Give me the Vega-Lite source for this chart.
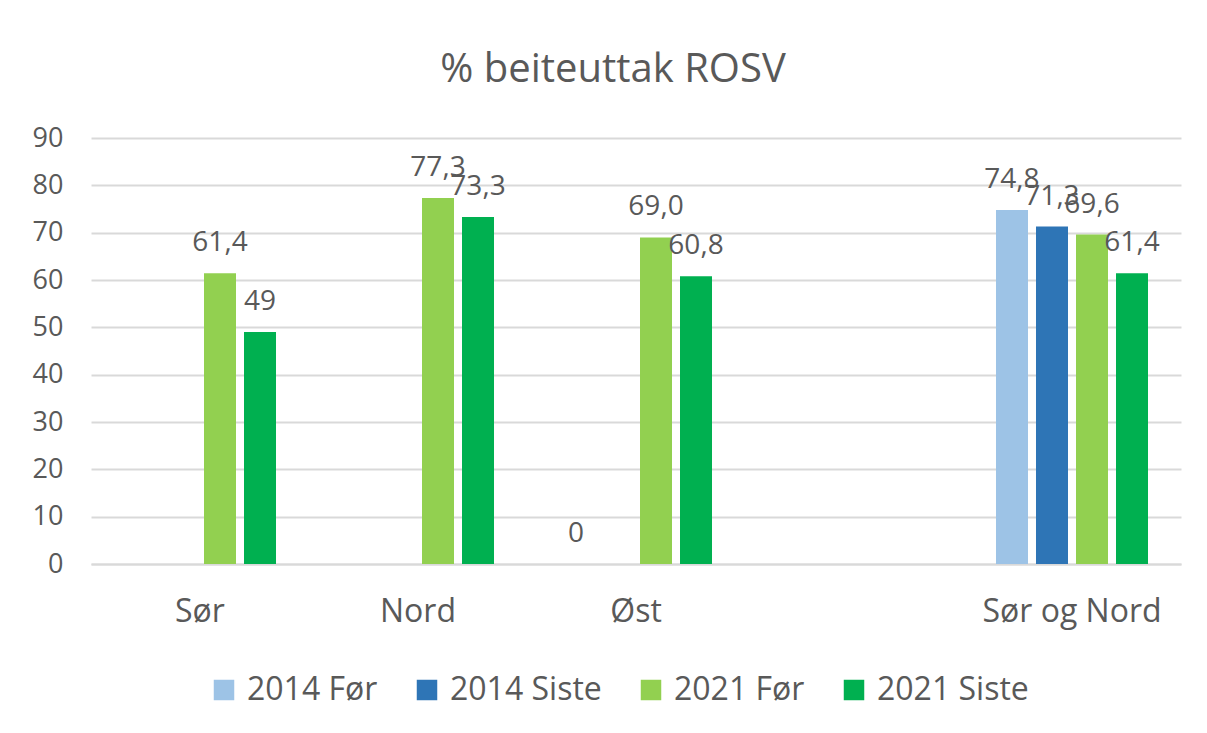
{
  "$schema": "https://vega.github.io/schema/vega-lite/v6.json",
  "width": 1090,
  "height": 426,
  "autosize": {"type": "none"},
  "padding": {"left": 91, "top": 138, "right": 26, "bottom": 169},
  "background": "white",
  "title": {
    "text": "% beiteuttak ROSV",
    "font": "Open Sans",
    "fontSize": 40,
    "fontWeight": "normal",
    "color": "#595959",
    "anchor": "middle",
    "frame": "group",
    "offset": 34,
    "dx": -23
  },
  "data": {
    "values": [
      {"omrade": "Sør", "serie": "2021 Før", "verdi": 61.4, "etikett": "61,4"},
      {"omrade": "Sør", "serie": "2021 Siste", "verdi": 49, "etikett": "49"},
      {"omrade": "Nord", "serie": "2021 Før", "verdi": 77.3, "etikett": "77,3"},
      {"omrade": "Nord", "serie": "2021 Siste", "verdi": 73.3, "etikett": "73,3"},
      {"omrade": "Øst", "serie": "2014 Før", "verdi": 0, "etikett": "0"},
      {"omrade": "Øst", "serie": "2021 Før", "verdi": 69.0, "etikett": "69,0"},
      {"omrade": "Øst", "serie": "2021 Siste", "verdi": 60.8, "etikett": "60,8"},
      {"omrade": "Sør og Nord", "serie": "2014 Før", "verdi": 74.8, "etikett": "74,8"},
      {"omrade": "Sør og Nord", "serie": "2014 Siste", "verdi": 71.3, "etikett": "71,3"},
      {"omrade": "Sør og Nord", "serie": "2021 Før", "verdi": 69.6, "etikett": "69,6"},
      {"omrade": "Sør og Nord", "serie": "2021 Siste", "verdi": 61.4, "etikett": "61,4"}
    ]
  },
  "encoding": {
    "x": {
      "field": "omrade",
      "type": "nominal",
      "sort": null,
      "title": null,
      "scale": {
        "domain": ["Sør", "Nord", "Øst", " ", "Sør og Nord"],
        "paddingInner": 0.266,
        "paddingOuter": 0.133
      },
      "axis": {
        "labelAngle": 0,
        "ticks": false,
        "domain": true,
        "domainColor": "#D9D9D9",
        "domainWidth": 2,
        "labelFont": "Open Sans",
        "labelFontSize": 32,
        "labelColor": "#595959",
        "labelPadding": 32
      }
    },
    "xOffset": {
      "field": "serie",
      "type": "nominal",
      "scale": {
        "domain": ["2014 Før", "2014 Siste", "2021 Før", "2021 Siste"],
        "paddingInner": 0.2,
        "paddingOuter": 0.1
      }
    },
    "y": {
      "field": "verdi",
      "type": "quantitative",
      "title": null,
      "scale": {"domain": [0, 90], "nice": false},
      "axis": {
        "values": [0, 10, 20, 30, 40, 50, 60, 70, 80, 90],
        "domain": false,
        "ticks": false,
        "grid": true,
        "gridColor": "#D9D9D9",
        "gridWidth": 2,
        "labelFont": "Open Sans",
        "labelFontSize": 27,
        "labelColor": "#595959",
        "labelPadding": 28
      }
    }
  },
  "layer": [
    {
      "mark": {"type": "bar"},
      "encoding": {
        "color": {
          "field": "serie",
          "type": "nominal",
          "scale": {
            "domain": ["2014 Før", "2014 Siste", "2021 Før", "2021 Siste"],
            "range": ["#9DC3E6", "#2E75B6", "#92D050", "#00B050"]
          },
          "legend": {
            "title": null,
            "orient": "none",
            "legendX": 117,
            "legendY": 536,
            "direction": "horizontal",
            "columns": 4,
            "symbolType": "square",
            "symbolSize": 420,
            "symbolStrokeWidth": 0,
            "labelFont": "Open Sans",
            "labelFontSize": 32,
            "labelColor": "#595959",
            "labelOffset": 7,
            "columnPadding": 33
          }
        }
      }
    },
    {
      "mark": {
        "type": "text",
        "baseline": "alphabetic",
        "dy": -22,
        "font": "Open Sans",
        "fontSize": 28,
        "color": "#595959"
      },
      "encoding": {"text": {"field": "etikett"}}
    }
  ],
  "config": {"view": {"stroke": null}}
}
